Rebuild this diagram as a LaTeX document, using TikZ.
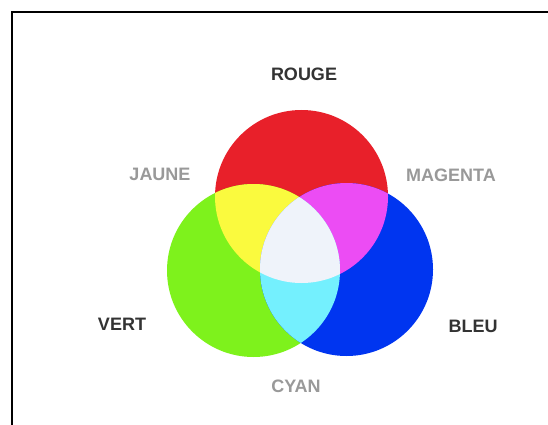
\documentclass[tikz,border=0pt]{standalone}
\usepackage{fontspec}
\setmainfont{Liberation Sans}
\definecolor{cred}{HTML}{E8202A}
\definecolor{cgreen}{HTML}{7EF21C}
\definecolor{cblue}{HTML}{0035F0}
\definecolor{cyellow}{HTML}{FAFA3E}
\definecolor{cmagenta}{HTML}{EC4CF4}
\definecolor{ccyan}{HTML}{74F0FE}
\definecolor{cwhite}{HTML}{EFF3FA}
\definecolor{darklab}{HTML}{333333}
\definecolor{lightlab}{HTML}{999999}
\tikzset{
  lab/.style={font=\fontsize{18}{18}\selectfont\bfseries, inner sep=0pt, anchor=center},
  primary/.style={lab, text=darklab},
  secondary/.style={lab, text=lightlab},
}
\begin{document}
\begin{tikzpicture}[x=1pt,y=-1pt]
\useasboundingbox (0,0) rectangle (548,425);
\fill[white] (0,0) rectangle (548,425);
\draw[line width=2pt] (12,425) -- (12,12) -- (548,12);
\def\R{86.5}
\coordinate (cr) at (301.5,196.5);
\coordinate (cg) at (253.5,270.5);
\coordinate (cb) at (346.5,269.5);
\fill[cred] (cr) circle[radius=\R];
\fill[cgreen] (cg) circle[radius=\R];
\fill[cblue] (cb) circle[radius=\R];
\begin{scope}
  \clip (cr) circle[radius=\R];
  \fill[cyellow] (cg) circle[radius=\R];
  \fill[cmagenta] (cb) circle[radius=\R];
\end{scope}
\begin{scope}
  \clip (cg) circle[radius=\R];
  \fill[ccyan] (cb) circle[radius=\R];
\end{scope}
\begin{scope}
  \clip (cr) circle[radius=\R];
  \clip (cg) circle[radius=\R];
  \fill[cwhite] (cb) circle[radius=\R];
\end{scope}
\node[primary] (rouge) at (304,74) {ROUGE};
\node[secondary] (jaune) at (160,174) {JAUNE};
\node[secondary] (magenta) at (451,175) {MAGENTA};
\node[primary] (vert) at (122,324) {VERT};
\node[primary] (bleu) at (473,326) {BLEU};
\node[secondary] (cyan) at (296,386) {CYAN};
\end{tikzpicture}
\end{document}
